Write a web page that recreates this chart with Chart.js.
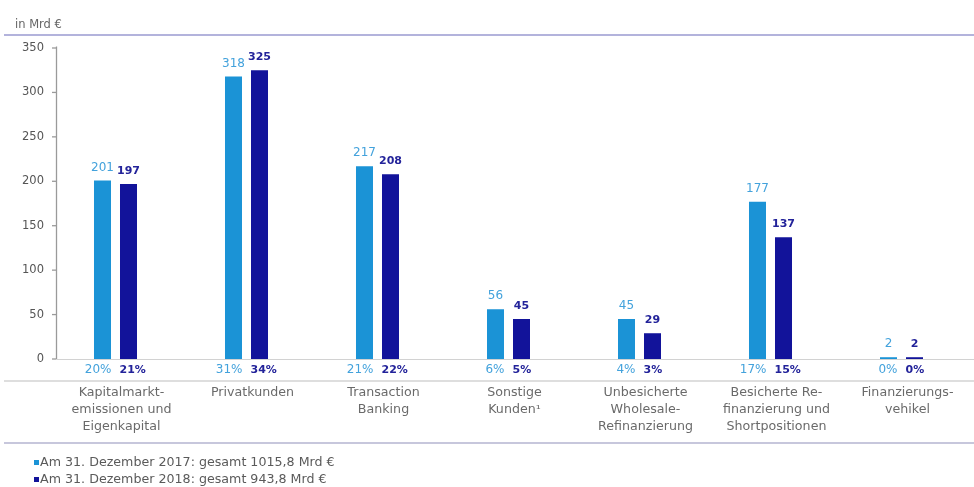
<!DOCTYPE html>
<html>
<head>
<meta charset="utf-8">
<script src="https://cdn.jsdelivr.net/npm/chart.js@4/dist/chart.umd.min.js"></script>
<style>
html,body{margin:0;padding:0;background:#fff;}
#wrap{width:974px;height:487px;position:relative;}
</style>
</head>
<body>
<div id="wrap"><canvas id="c" width="974" height="487"></canvas></div>
<script>
const categories = [
  ["Kapitalmarkt-","emissionen und","Eigenkapital"],
  ["Privatkunden"],
  ["Transaction","Banking"],
  ["Sonstige","Kunden\u00b9"],
  ["Unbesicherte","Wholesale-","Refinanzierung"],
  ["Besicherte Re-","finanzierung und","Shortpositionen"],
  ["Finanzierungs-","vehikel"]
];
const values2017 = [201, 318, 217, 56, 45, 177, 2];
const values2018 = [197, 325, 208, 45, 29, 137, 2];
const share2017 = ["20%","31%","21%","6%","4%","17%","0%"];
const share2018 = ["21%","34%","22%","5%","3%","15%","0%"];
const seriesLabels = [
  "Am 31. Dezember 2017: gesamt 1015,8 Mrd \u20ac",
  "Am 31. Dezember 2018: gesamt 943,8 Mrd \u20ac"
];
const unitLabel = "in Mrd \u20ac";
const yMin = 0, yMax = 350, yStep = 50;

const LIGHT = "#1b93d6";
const DARK = "#12139a";
const LIGHT_TXT = "#43a2dc";
const DARK_TXT = "#23239a";
const FONT = "'DejaVu Sans', sans-serif";

function wideText(ctx, txt, x, y, sx) {
  ctx.save();
  ctx.translate(x, y);
  ctx.scale(sx, 1);
  ctx.fillText(txt, 0, 0);
  ctx.restore();
}

const decor = {
  id: "decor",
  afterDraw(chart) {
    const ctx = chart.ctx;
    const ca = chart.chartArea;
    const xs = chart.scales.x, ys = chart.scales.y;
    const W = chart.width;
    ctx.save();
    // header
    ctx.fillStyle = "#666";
    ctx.font = "11.5px " + FONT;
    ctx.textAlign = "left";
    ctx.textBaseline = "middle";
    ctx.fillText(unitLabel, 15, ca.top - 23);
    ctx.strokeStyle = "#b3b3dc";
    ctx.lineWidth = 2;
    ctx.beginPath(); ctx.moveTo(4, ca.top - 13); ctx.lineTo(W, ca.top - 13); ctx.stroke();

    // y axis line + ticks
    const ax = ca.left + 6.5;
    ctx.strokeStyle = "#9a9a9a";
    ctx.lineWidth = 1.3;
    ctx.beginPath(); ctx.moveTo(ax, ys.getPixelForValue(yMax) - 1.5); ctx.lineTo(ax, ys.getPixelForValue(0)); ctx.stroke();
    ys.ticks.forEach(t => {
      const y = ys.getPixelForValue(t.value);
      ctx.beginPath(); ctx.moveTo(ax - 4.5, y); ctx.lineTo(ax, y); ctx.stroke();
    });
    // baseline
    const y0 = ys.getPixelForValue(0);
    ctx.strokeStyle = "#d2d2d2";
    ctx.lineWidth = 1;
    ctx.beginPath(); ctx.moveTo(ax, y0 + 0.5); ctx.lineTo(W, y0 + 0.5); ctx.stroke();

    // value labels above bars
    const m0 = chart.getDatasetMeta(0), m1 = chart.getDatasetMeta(1);
    ctx.textAlign = "center";
    ctx.textBaseline = "middle";
    m0.data.forEach((bar, i) => {
      ctx.fillStyle = LIGHT_TXT;
      ctx.font = "12px " + FONT;
      ctx.fillText(String(values2017[i]), bar.x, bar.y - 13);
    });
    m1.data.forEach((bar, i) => {
      ctx.fillStyle = DARK_TXT;
      ctx.font = "bold 11px " + FONT;
      ctx.fillText(String(values2018[i]), bar.x, bar.y - 13);
    });

    // share labels under baseline
    m0.data.forEach((bar, i) => {
      ctx.fillStyle = LIGHT_TXT;
      ctx.font = "12px " + FONT;
      ctx.textAlign = "right";
      ctx.fillText(share2017[i], bar.x + bar.width / 2 + 0.5, y0 + 11);
    });
    m1.data.forEach((bar, i) => {
      ctx.fillStyle = DARK_TXT;
      ctx.font = "bold 11px " + FONT;
      ctx.textAlign = "left";
      ctx.fillText(share2018[i], bar.x - bar.width / 2 - 0.5, y0 + 11);
    });

    // separator
    ctx.strokeStyle = "#bdbdbd";
    ctx.lineWidth = 1;
    ctx.beginPath(); ctx.moveTo(4, y0 + 22); ctx.lineTo(W, y0 + 22); ctx.stroke();

    // category labels
    ctx.fillStyle = "#6a6a6a";
    ctx.font = "11.5px " + FONT;
    ctx.textAlign = "center";
    categories.forEach((lines, i) => {
      const x = xs.getPixelForValue(i) + 6;
      lines.forEach((ln, k) => wideText(ctx, ln, x, y0 + 34 + k * 17, 1.1));
    });

    // bottom separator
    ctx.strokeStyle = "#b4b4d0";
    ctx.lineWidth = 1.5;
    ctx.beginPath(); ctx.moveTo(4, y0 + 84); ctx.lineTo(W, y0 + 84); ctx.stroke();

    // legend
    const cols = [LIGHT, DARK];
    ctx.font = "11.5px " + FONT;
    ctx.textAlign = "left";
    seriesLabels.forEach((lb, k) => {
      const ly = y0 + 104 + k * 17;
      ctx.fillStyle = cols[k];
      ctx.fillRect(34, ly - 3, 5, 5);
      ctx.fillStyle = "#5a5a5a";
      wideText(ctx, lb, 40, ly, 1.1);
    });
    ctx.restore();
  }
};

new Chart(document.getElementById("c"), {
  type: "bar",
  data: {
    labels: categories.map(c => c.join(" ")),
    datasets: [
      { label: seriesLabels[0], data: values2017, backgroundColor: LIGHT, categoryPercentage: 0.397, barPercentage: 0.654 },
      { label: seriesLabels[1], data: values2018, backgroundColor: DARK, categoryPercentage: 0.397, barPercentage: 0.654 }
    ]
  },
  options: {
    responsive: false,
    animation: false,
    devicePixelRatio: 1,
    layout: { padding: { top: 48, right: 7, bottom: 128, left: 0 } },
    plugins: { legend: { display: false }, tooltip: { enabled: false } },
    scales: {
      x: {
        ticks: { display: false },
        grid: { display: false, drawTicks: false },
        border: { display: false },
        afterFit(s) { s.height = 0; }
      },
      y: {
        min: yMin, max: yMax,
        ticks: { stepSize: yStep, color: "#555", font: { family: FONT, size: 11.5 }, padding: 6 },
        grid: { display: false, drawTicks: false, tickLength: 0 },
        border: { display: false },
        afterFit(s) { s.width = 50; }
      }
    }
  },
  plugins: [decor]
});
</script>
</body>
</html>
